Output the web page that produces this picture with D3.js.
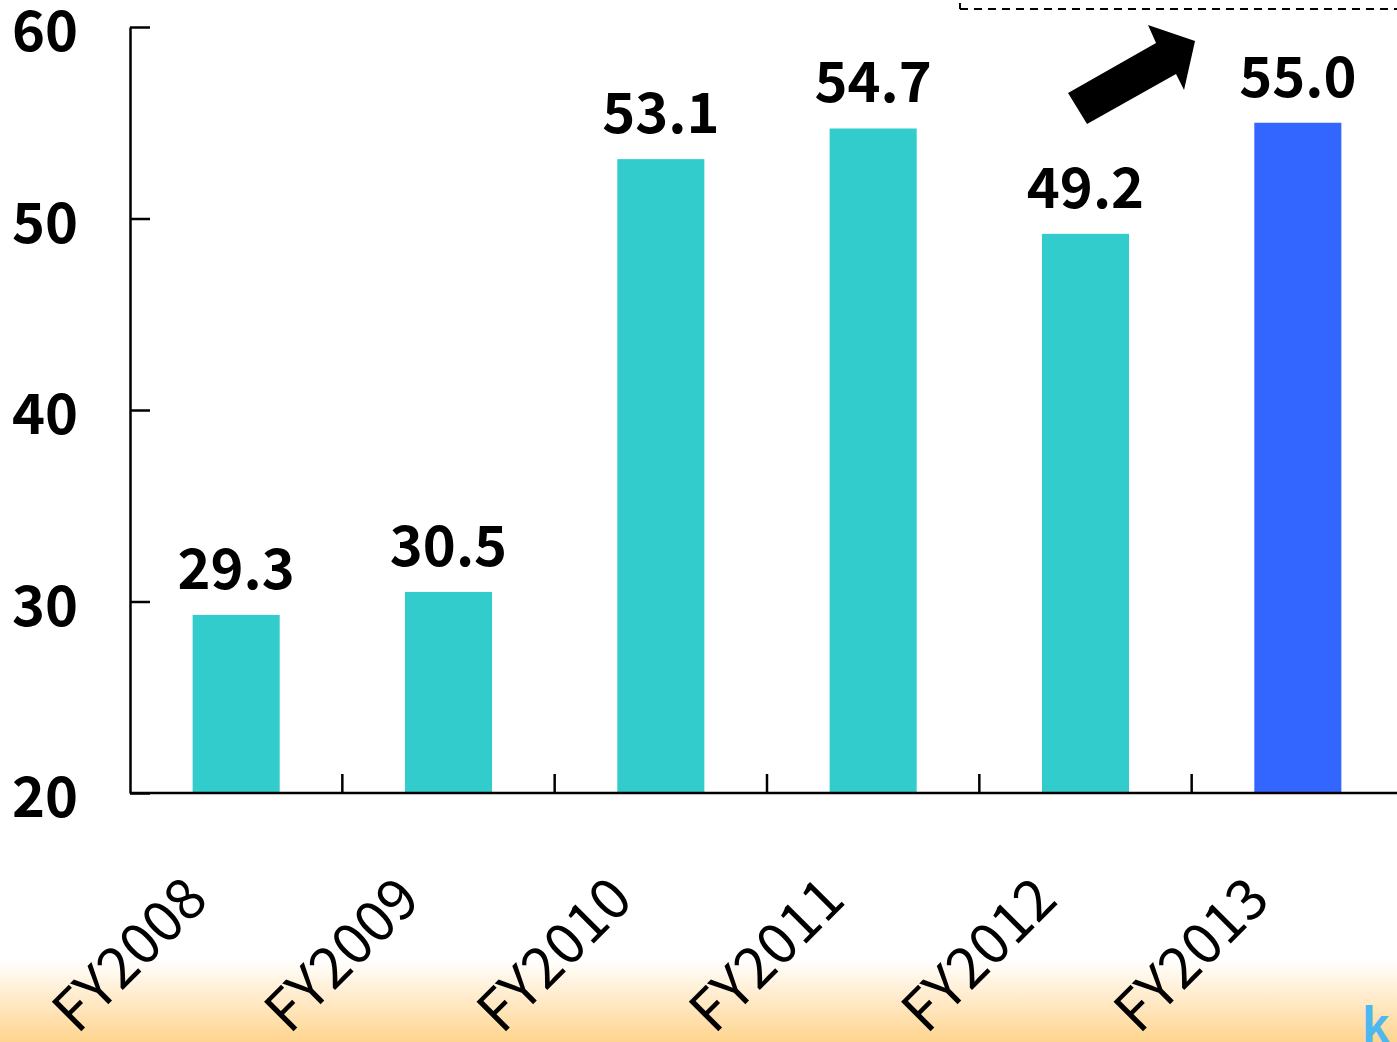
<!DOCTYPE html>
<html>
<head>
<meta charset="utf-8">
<script src="https://cdn.jsdelivr.net/npm/d3@7"></script>
<style>
  body { margin: 0; background: #fff; }
  svg { display: block; }
</style>
</head>
<body>
<div id="chart"></div>
<script>
//Width and height
var w = 1397;
var h = 1042;

//Data
var years = ["FY2008", "FY2009", "FY2010", "FY2011", "FY2012", "FY2013"];
var values = [29.3, 30.5, 53.1, 54.7, 49.2, 55.0];
var barColors = ["#33CCCC", "#33CCCC", "#33CCCC", "#33CCCC", "#33CCCC", "#3366FF"];
var yTicks = [20, 30, 40, 50, 60];

var font = "'Noto Sans CJK JP', 'Liberation Sans', sans-serif";

//Scales
var xScale = d3.scaleBand()
  .domain(years)
  .range([130, 1404])
  .paddingInner(0.59)
  .paddingOuter(0.295);

var yScale = d3.scaleLinear()
  .domain([20, 60])
  .range([793, 27]);

var svg = d3.select("#chart")
  .append("svg")
  .attr("width", w)
  .attr("height", h);

//Bottom gradient band
var defs = svg.append("defs");
var grad = defs.append("linearGradient")
  .attr("id", "foot")
  .attr("x1", 0).attr("y1", 0).attr("x2", 0).attr("y2", 1);
grad.append("stop").attr("offset", "0%").attr("stop-color", "#ffffff");
grad.append("stop").attr("offset", "100%").attr("stop-color", "#FFD48E");

svg.append("rect")
  .attr("x", 0)
  .attr("y", 960)
  .attr("width", w)
  .attr("height", h - 960)
  .attr("fill", "url(#foot)");

svg.append("text")
  .attr("x", 1362)
  .attr("y", 1042)
  .attr("fill", "#4DB8F0")
  .style("font-family", font)
  .style("font-weight", "bold")
  .style("font-size", "46px")
  .text("k");

//Bars
svg.append("g")
  .selectAll("rect")
  .data(values)
  .enter()
  .append("rect")
  .attr("x", function(d, i) { return xScale(years[i]); })
  .attr("y", function(d) { return yScale(d); })
  .attr("width", xScale.bandwidth())
  .attr("height", function(d) { return yScale(20) - yScale(d); })
  .attr("fill", function(d, i) { return barColors[i]; });

//Value labels
svg.append("g")
  .selectAll("text")
  .data(values)
  .enter()
  .append("text")
  .attr("x", function(d, i) { return xScale(years[i]) + xScale.bandwidth() / 2; })
  .attr("y", function(d) { return yScale(d) - 26; })
  .attr("text-anchor", "middle")
  .style("font-family", font)
  .style("font-weight", "bold")
  .style("font-size", "56px")
  .attr("fill", "#000")
  .text(function(d) { return d.toFixed(1); });

//Y axis, ticks point inward
var yAxis = d3.axisLeft(yScale)
  .tickValues(yTicks)
  .tickSizeInner(-20)
  .tickSizeOuter(0)
  .tickPadding(52)
  .tickFormat(d3.format("d"));

var gy = svg.append("g")
  .attr("transform", "translate(130,0)")
  .call(yAxis);
gy.selectAll("path, line").attr("stroke", "#000").attr("stroke-width", 2.5);
gy.selectAll("text")
  .attr("dy", "0.42em")
  .style("font-family", font)
  .style("font-weight", "bold")
  .style("font-size", "56px")
  .attr("fill", "#000");

//X axis line and category separators
svg.append("line")
  .attr("x1", 130).attr("x2", w)
  .attr("y1", yScale(20)).attr("y2", yScale(20))
  .attr("stroke", "#000").attr("stroke-width", 2.5);

svg.append("g")
  .selectAll("line")
  .data(years.slice(0, 5))
  .enter()
  .append("line")
  .attr("x1", function(d) { return xScale(d) - xScale.step() * 0.295 + xScale.step(); })
  .attr("x2", function(d) { return xScale(d) - xScale.step() * 0.295 + xScale.step(); })
  .attr("y1", yScale(20))
  .attr("y2", yScale(20) - 19)
  .attr("stroke", "#000").attr("stroke-width", 2.5);

//Category labels, rotated
svg.append("g")
  .selectAll("text")
  .data(years)
  .enter()
  .append("text")
  .attr("transform", function(d) {
    var cx = xScale(d) + xScale.bandwidth() / 2 - 56;
    return "translate(" + cx + ",872) rotate(-45)";
  })
  .attr("text-anchor", "end")
  .attr("dy", "0.75em")
  .style("font-family", font)
  .style("font-size", "57px")
  .attr("fill", "#000")
  .text(function(d) { return d; });

//Dashed bracket at top right
var dashY = 9;
var dashX = xScale("FY2012") - 82;
svg.append("line")
  .attr("x1", dashX).attr("x2", w)
  .attr("y1", dashY).attr("y2", dashY)
  .attr("stroke", "#000").attr("stroke-width", 2)
  .attr("stroke-dasharray", "8,6");
svg.append("line")
  .attr("x1", dashX).attr("x2", dashX)
  .attr("y1", 3).attr("y2", dashY)
  .attr("stroke", "#000").attr("stroke-width", 2);

//Block arrow from FY2012 towards FY2013
var ax = xScale("FY2012") + xScale.bandwidth();
var arrow = [
  [-61, 93], [-42, 124], [47, 74], [55, 90], [66, 41], [19, 25], [27, 43]
];
svg.append("polygon")
  .attr("points", arrow.map(function(p) { return (ax + p[0]) + "," + p[1]; }).join(" "))
  .attr("fill", "#000");
</script>
</body>
</html>
